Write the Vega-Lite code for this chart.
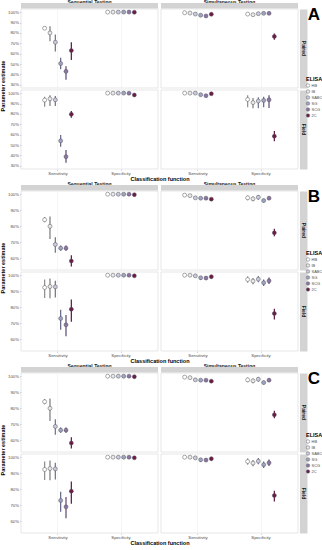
{
"$schema": "https://vega.github.io/schema/vega-lite/v6.json",
"padding": 0,
"background": "white",
"datasets": {
"A": [
{"setting":"Paired","testing":"Sequential Testing","measure":"Sensitivity","elisa":"HB","est":0.845,"lo":0.83,"hi":0.86},
{"setting":"Paired","testing":"Sequential Testing","measure":"Sensitivity","elisa":"IB","est":0.80,"lo":0.72,"hi":0.865},
{"setting":"Paired","testing":"Sequential Testing","measure":"Sensitivity","elisa":"SABC","est":0.71,"lo":0.62,"hi":0.785},
{"setting":"Paired","testing":"Sequential Testing","measure":"Sensitivity","elisa":"SG","est":0.505,"lo":0.45,"hi":0.56},
{"setting":"Paired","testing":"Sequential Testing","measure":"Sensitivity","elisa":"SCG","est":0.43,"lo":0.35,"hi":0.48},
{"setting":"Paired","testing":"Sequential Testing","measure":"Sensitivity","elisa":"2C","est":0.63,"lo":0.54,"hi":0.71},
{"setting":"Paired","testing":"Sequential Testing","measure":"Specificity","elisa":"HB","est":1.0,"lo":0.997,"hi":1.0},
{"setting":"Paired","testing":"Sequential Testing","measure":"Specificity","elisa":"IB","est":1.0,"lo":0.997,"hi":1.0},
{"setting":"Paired","testing":"Sequential Testing","measure":"Specificity","elisa":"SABC","est":1.0,"lo":0.997,"hi":1.0},
{"setting":"Paired","testing":"Sequential Testing","measure":"Specificity","elisa":"SG","est":1.0,"lo":0.996,"hi":1.0},
{"setting":"Paired","testing":"Sequential Testing","measure":"Specificity","elisa":"SCG","est":1.0,"lo":0.996,"hi":1.0},
{"setting":"Paired","testing":"Sequential Testing","measure":"Specificity","elisa":"2C","est":0.999,"lo":0.99,"hi":1.0},
{"setting":"Paired","testing":"Simultaneous Testing","measure":"Sensitivity","elisa":"HB","est":0.994,"lo":0.99,"hi":0.998},
{"setting":"Paired","testing":"Simultaneous Testing","measure":"Sensitivity","elisa":"IB","est":0.991,"lo":0.986,"hi":0.996},
{"setting":"Paired","testing":"Simultaneous Testing","measure":"Sensitivity","elisa":"SABC","est":0.981,"lo":0.975,"hi":0.987},
{"setting":"Paired","testing":"Simultaneous Testing","measure":"Sensitivity","elisa":"SG","est":0.97,"lo":0.963,"hi":0.977},
{"setting":"Paired","testing":"Simultaneous Testing","measure":"Sensitivity","elisa":"SCG","est":0.963,"lo":0.956,"hi":0.97},
{"setting":"Paired","testing":"Simultaneous Testing","measure":"Sensitivity","elisa":"2C","est":0.979,"lo":0.972,"hi":0.986},
{"setting":"Paired","testing":"Simultaneous Testing","measure":"Specificity","elisa":"HB","est":0.981,"lo":0.975,"hi":0.987},
{"setting":"Paired","testing":"Simultaneous Testing","measure":"Specificity","elisa":"IB","est":0.975,"lo":0.969,"hi":0.981},
{"setting":"Paired","testing":"Simultaneous Testing","measure":"Specificity","elisa":"SABC","est":0.985,"lo":0.98,"hi":0.99},
{"setting":"Paired","testing":"Simultaneous Testing","measure":"Specificity","elisa":"SG","est":0.988,"lo":0.983,"hi":0.993},
{"setting":"Paired","testing":"Simultaneous Testing","measure":"Specificity","elisa":"SCG","est":0.988,"lo":0.983,"hi":0.993},
{"setting":"Paired","testing":"Simultaneous Testing","measure":"Specificity","elisa":"2C","est":0.766,"lo":0.735,"hi":0.794},
{"setting":"Field","testing":"Sequential Testing","measure":"Sensitivity","elisa":"HB","est":0.933,"lo":0.869,"hi":0.966},
{"setting":"Field","testing":"Sequential Testing","measure":"Sensitivity","elisa":"IB","est":0.945,"lo":0.875,"hi":0.979},
{"setting":"Field","testing":"Sequential Testing","measure":"Sensitivity","elisa":"SABC","est":0.936,"lo":0.875,"hi":0.973},
{"setting":"Field","testing":"Sequential Testing","measure":"Sensitivity","elisa":"SG","est":0.541,"lo":0.483,"hi":0.596},
{"setting":"Field","testing":"Sequential Testing","measure":"Sensitivity","elisa":"SCG","est":0.389,"lo":0.331,"hi":0.453},
{"setting":"Field","testing":"Sequential Testing","measure":"Sensitivity","elisa":"2C","est":0.796,"lo":0.763,"hi":0.827},
{"setting":"Field","testing":"Sequential Testing","measure":"Specificity","elisa":"HB","est":1.0,"lo":0.997,"hi":1.0},
{"setting":"Field","testing":"Sequential Testing","measure":"Specificity","elisa":"IB","est":1.0,"lo":0.997,"hi":1.0},
{"setting":"Field","testing":"Sequential Testing","measure":"Specificity","elisa":"SABC","est":1.0,"lo":0.997,"hi":1.0},
{"setting":"Field","testing":"Sequential Testing","measure":"Specificity","elisa":"SG","est":1.0,"lo":0.997,"hi":1.0},
{"setting":"Field","testing":"Sequential Testing","measure":"Specificity","elisa":"SCG","est":0.999,"lo":0.994,"hi":1.0},
{"setting":"Field","testing":"Sequential Testing","measure":"Specificity","elisa":"2C","est":0.982,"lo":0.972,"hi":0.99},
{"setting":"Field","testing":"Simultaneous Testing","measure":"Sensitivity","elisa":"HB","est":1.0,"lo":0.997,"hi":1.0},
{"setting":"Field","testing":"Simultaneous Testing","measure":"Sensitivity","elisa":"IB","est":1.0,"lo":0.997,"hi":1.0},
{"setting":"Field","testing":"Simultaneous Testing","measure":"Sensitivity","elisa":"SABC","est":1.0,"lo":0.997,"hi":1.0},
{"setting":"Field","testing":"Simultaneous Testing","measure":"Sensitivity","elisa":"SG","est":0.985,"lo":0.975,"hi":0.994},
{"setting":"Field","testing":"Simultaneous Testing","measure":"Sensitivity","elisa":"SCG","est":0.975,"lo":0.962,"hi":0.987},
{"setting":"Field","testing":"Simultaneous Testing","measure":"Sensitivity","elisa":"2C","est":0.994,"lo":0.985,"hi":1.0},
{"setting":"Field","testing":"Simultaneous Testing","measure":"Specificity","elisa":"HB","est":0.939,"lo":0.863,"hi":0.979},
{"setting":"Field","testing":"Simultaneous Testing","measure":"Specificity","elisa":"IB","est":0.909,"lo":0.854,"hi":0.954},
{"setting":"Field","testing":"Simultaneous Testing","measure":"Specificity","elisa":"SABC","est":0.924,"lo":0.854,"hi":0.96},
{"setting":"Field","testing":"Simultaneous Testing","measure":"Specificity","elisa":"SG","est":0.93,"lo":0.863,"hi":0.966},
{"setting":"Field","testing":"Simultaneous Testing","measure":"Specificity","elisa":"SCG","est":0.936,"lo":0.857,"hi":0.979},
{"setting":"Field","testing":"Simultaneous Testing","measure":"Specificity","elisa":"2C","est":0.586,"lo":0.537,"hi":0.635}
],
"BC": [
{"setting":"Paired","testing":"Sequential Testing","measure":"Sensitivity","elisa":"HB","est":0.84,"lo":0.824,"hi":0.857},
{"setting":"Paired","testing":"Sequential Testing","measure":"Sensitivity","elisa":"IB","est":0.799,"lo":0.72,"hi":0.861},
{"setting":"Paired","testing":"Sequential Testing","measure":"Sensitivity","elisa":"SABC","est":0.685,"lo":0.633,"hi":0.73},
{"setting":"Paired","testing":"Sequential Testing","measure":"Sensitivity","elisa":"SG","est":0.662,"lo":0.646,"hi":0.679},
{"setting":"Paired","testing":"Sequential Testing","measure":"Sensitivity","elisa":"SCG","est":0.662,"lo":0.646,"hi":0.679},
{"setting":"Paired","testing":"Sequential Testing","measure":"Sensitivity","elisa":"2C","est":0.581,"lo":0.547,"hi":0.617},
{"setting":"Paired","testing":"Sequential Testing","measure":"Specificity","elisa":"HB","est":1.0,"lo":0.997,"hi":1.0},
{"setting":"Paired","testing":"Sequential Testing","measure":"Specificity","elisa":"IB","est":1.0,"lo":0.997,"hi":1.0},
{"setting":"Paired","testing":"Sequential Testing","measure":"Specificity","elisa":"SABC","est":1.0,"lo":0.997,"hi":1.0},
{"setting":"Paired","testing":"Sequential Testing","measure":"Specificity","elisa":"SG","est":1.0,"lo":0.997,"hi":1.0},
{"setting":"Paired","testing":"Sequential Testing","measure":"Specificity","elisa":"SCG","est":1.0,"lo":0.997,"hi":1.0},
{"setting":"Paired","testing":"Sequential Testing","measure":"Specificity","elisa":"2C","est":0.997,"lo":0.993,"hi":1.0},
{"setting":"Paired","testing":"Simultaneous Testing","measure":"Sensitivity","elisa":"HB","est":0.994,"lo":0.99,"hi":0.998},
{"setting":"Paired","testing":"Simultaneous Testing","measure":"Sensitivity","elisa":"IB","est":0.991,"lo":0.987,"hi":0.995},
{"setting":"Paired","testing":"Simultaneous Testing","measure":"Sensitivity","elisa":"SABC","est":0.977,"lo":0.972,"hi":0.982},
{"setting":"Paired","testing":"Simultaneous Testing","measure":"Sensitivity","elisa":"SG","est":0.975,"lo":0.97,"hi":0.98},
{"setting":"Paired","testing":"Simultaneous Testing","measure":"Sensitivity","elisa":"SCG","est":0.975,"lo":0.97,"hi":0.98},
{"setting":"Paired","testing":"Simultaneous Testing","measure":"Sensitivity","elisa":"2C","est":0.969,"lo":0.963,"hi":0.975},
{"setting":"Paired","testing":"Simultaneous Testing","measure":"Specificity","elisa":"HB","est":0.977,"lo":0.962,"hi":0.992},
{"setting":"Paired","testing":"Simultaneous Testing","measure":"Specificity","elisa":"IB","est":0.971,"lo":0.956,"hi":0.986},
{"setting":"Paired","testing":"Simultaneous Testing","measure":"Specificity","elisa":"SABC","est":0.981,"lo":0.965,"hi":0.995},
{"setting":"Paired","testing":"Simultaneous Testing","measure":"Specificity","elisa":"SG","est":0.96,"lo":0.948,"hi":0.972},
{"setting":"Paired","testing":"Simultaneous Testing","measure":"Specificity","elisa":"SCG","est":0.975,"lo":0.963,"hi":0.987},
{"setting":"Paired","testing":"Simultaneous Testing","measure":"Specificity","elisa":"2C","est":0.758,"lo":0.737,"hi":0.783},
{"setting":"Field","testing":"Sequential Testing","measure":"Sensitivity","elisa":"HB","est":0.923,"lo":0.857,"hi":0.973},
{"setting":"Field","testing":"Sequential Testing","measure":"Sensitivity","elisa":"IB","est":0.929,"lo":0.855,"hi":0.979},
{"setting":"Field","testing":"Sequential Testing","measure":"Sensitivity","elisa":"SABC","est":0.927,"lo":0.86,"hi":0.965},
{"setting":"Field","testing":"Sequential Testing","measure":"Sensitivity","elisa":"SG","est":0.729,"lo":0.658,"hi":0.784},
{"setting":"Field","testing":"Sequential Testing","measure":"Sensitivity","elisa":"SCG","est":0.689,"lo":0.618,"hi":0.75},
{"setting":"Field","testing":"Sequential Testing","measure":"Sensitivity","elisa":"2C","est":0.787,"lo":0.709,"hi":0.848},
{"setting":"Field","testing":"Sequential Testing","measure":"Specificity","elisa":"HB","est":1.0,"lo":0.997,"hi":1.0},
{"setting":"Field","testing":"Sequential Testing","measure":"Specificity","elisa":"IB","est":1.0,"lo":0.997,"hi":1.0},
{"setting":"Field","testing":"Sequential Testing","measure":"Specificity","elisa":"SABC","est":1.0,"lo":0.997,"hi":1.0},
{"setting":"Field","testing":"Sequential Testing","measure":"Specificity","elisa":"SG","est":1.0,"lo":0.997,"hi":1.0},
{"setting":"Field","testing":"Sequential Testing","measure":"Specificity","elisa":"SCG","est":1.0,"lo":0.997,"hi":1.0},
{"setting":"Field","testing":"Sequential Testing","measure":"Specificity","elisa":"2C","est":0.996,"lo":0.992,"hi":1.0},
{"setting":"Field","testing":"Simultaneous Testing","measure":"Sensitivity","elisa":"HB","est":1.0,"lo":0.997,"hi":1.0},
{"setting":"Field","testing":"Simultaneous Testing","measure":"Sensitivity","elisa":"IB","est":1.0,"lo":0.997,"hi":1.0},
{"setting":"Field","testing":"Simultaneous Testing","measure":"Sensitivity","elisa":"SABC","est":0.996,"lo":0.992,"hi":1.0},
{"setting":"Field","testing":"Simultaneous Testing","measure":"Sensitivity","elisa":"SG","est":0.984,"lo":0.97,"hi":0.995},
{"setting":"Field","testing":"Simultaneous Testing","measure":"Sensitivity","elisa":"SCG","est":0.982,"lo":0.97,"hi":0.993},
{"setting":"Field","testing":"Simultaneous Testing","measure":"Sensitivity","elisa":"2C","est":0.991,"lo":0.98,"hi":1.0},
{"setting":"Field","testing":"Simultaneous Testing","measure":"Specificity","elisa":"HB","est":0.973,"lo":0.953,"hi":0.994},
{"setting":"Field","testing":"Simultaneous Testing","measure":"Specificity","elisa":"IB","est":0.963,"lo":0.943,"hi":0.983},
{"setting":"Field","testing":"Simultaneous Testing","measure":"Specificity","elisa":"SABC","est":0.975,"lo":0.955,"hi":0.995},
{"setting":"Field","testing":"Simultaneous Testing","measure":"Specificity","elisa":"SG","est":0.953,"lo":0.933,"hi":0.973},
{"setting":"Field","testing":"Simultaneous Testing","measure":"Specificity","elisa":"SCG","est":0.965,"lo":0.945,"hi":0.985},
{"setting":"Field","testing":"Simultaneous Testing","measure":"Specificity","elisa":"2C","est":0.76,"lo":0.723,"hi":0.79}
]
},
"vconcat": [
{
 "data": {"name": "A"},
 "title": {"text": "A", "orient": "top", "anchor": "end", "frame": "bounds", "offset": -24, "dx": -3, "fontSize": 17, "fontWeight": "bold", "color": "#000"},
 "facet": {
  "row": {"field": "setting", "type": "nominal", "sort": ["Paired", "Field"], "title": "Parameter estimate", "header": {"labelOrient": "right", "labelAngle": 90, "labelPadding": -4.5, "labelBaseline": "middle", "labelAlign": "center", "titleOrient": "left", "titlePadding": -9}},
  "column": {"field": "testing", "type": "nominal", "title": "Classification function", "header": {"labelOrient": "top", "labelPadding": 2, "labelBaseline": "middle", "titleOrient": "bottom", "titlePadding": -9.5}}
 },
 "spacing": {"row": 2, "column": 3},
 "bounds": "flush",
 "spec": {
  "width": 137, "height": 79,
  "layer": [
   {"transform": [{"filter": "datum.setting === 'Paired' && datum.elisa === 'HB' && datum.measure === 'Sensitivity'"}],
    "mark": {"type": "rect", "color": "#d3d3d3"},
    "encoding": {"y": {"datum": 1.035, "type": "quantitative", "title": null, "axis": {"orient": "right", "domain": true, "domainColor": "#d3d3d3", "domainWidth": 7.5, "labels": false, "ticks": false, "grid": false, "title": null, "offset": 5.2}}, "y2": {"datum": 1.088}}},
   {"layer": [
    {"mark": {"type": "rule", "strokeWidth": 1.2},
     "encoding": {
      "x": {"field": "measure", "type": "nominal", "title": null, "scale": {"paddingInner": 0.492, "paddingOuter": 0.333}, "axis": {"labelAngle": 0, "bandPosition": 0.5, "grid": true}},
      "xOffset": {"field": "elisa", "type": "nominal", "sort": ["HB","IB","SABC","SG","SCG","2C"], "scale": {"paddingInner": 0, "paddingOuter": 0}},
      "y": {"field": "lo", "type": "quantitative", "title": null, "scale": {"domain": [0.27, 1.03], "nice": false, "zero": false}, "axis": {"values": [0.3,0.4,0.5,0.6,0.7,0.8,0.9,1.0], "format": ".0%", "labelOverlap": false}},
      "y2": {"field": "hi"},
      "color": {"field": "elisa", "type": "nominal", "scale": {"domain": ["HB","IB","SABC","SG","SCG","2C"], "range": ["#8c8c8c","#7a7a7a","#6e7088","#5f6585","#5d4672","#5a1540"]}, "legend": null}
     }},
    {"mark": {"type": "point", "filled": true, "size": 16, "stroke": "#555", "strokeWidth": 0.5, "opacity": 1},
     "encoding": {
      "x": {"field": "measure", "type": "nominal", "title": null},
      "xOffset": {"field": "elisa", "type": "nominal", "sort": ["HB","IB","SABC","SG","SCG","2C"]},
      "y": {"field": "est", "type": "quantitative", "title": null, "axis": {"values": [0.3,0.4,0.5,0.6,0.7,0.8,0.9,1.0], "format": ".0%", "labelOverlap": false}},
      "fill": {"field": "elisa", "type": "nominal", "scale": {"domain": ["HB","IB","SABC","SG","SCG","2C"], "range": ["#ffffff","#e8e8ee","#c8cade","#9fa4c6","#8b75a6","#6b1a4c"]},
        "legend": {"title": "ELISA", "orient": "none", "legendX": 285, "legendY": 68}}
     }}
   ]}
  ],
  "resolve": {"axis": {"y": "independent"}}
 }
},
{
 "data": {"name": "BC"},
 "title": {"text": "B", "orient": "top", "anchor": "end", "frame": "bounds", "offset": -24, "dx": -3, "fontSize": 17, "fontWeight": "bold", "color": "#000"},
 "facet": {
  "row": {"field": "setting", "type": "nominal", "sort": ["Paired", "Field"], "title": "Parameter estimate", "header": {"labelOrient": "right", "labelAngle": 90, "labelPadding": -4.5, "labelBaseline": "middle", "labelAlign": "center", "titleOrient": "left", "titlePadding": -9}},
  "column": {"field": "testing", "type": "nominal", "title": "Classification function", "header": {"labelOrient": "top", "labelPadding": 2, "labelBaseline": "middle", "titleOrient": "bottom", "titlePadding": -9.5}}
 },
 "spacing": {"row": 2, "column": 3},
 "bounds": "flush",
 "spec": {
  "width": 137, "height": 79,
  "layer": [
   {"transform": [{"filter": "datum.setting === 'Paired' && datum.elisa === 'HB' && datum.measure === 'Sensitivity'"}],
    "mark": {"type": "rect", "color": "#d3d3d3"},
    "encoding": {"y": {"datum": 1.023, "type": "quantitative", "title": null, "axis": {"orient": "right", "domain": true, "domainColor": "#d3d3d3", "domainWidth": 7.5, "labels": false, "ticks": false, "grid": false, "title": null, "offset": 5.2}}, "y2": {"datum": 1.058}}},
   {"layer": [
    {"mark": {"type": "rule", "strokeWidth": 1.2},
     "encoding": {
      "x": {"field": "measure", "type": "nominal", "title": null, "scale": {"paddingInner": 0.492, "paddingOuter": 0.333}, "axis": {"labelAngle": 0, "bandPosition": 0.5, "grid": true}},
      "xOffset": {"field": "elisa", "type": "nominal", "sort": ["HB","IB","SABC","SG","SCG","2C"], "scale": {"paddingInner": 0, "paddingOuter": 0}},
      "y": {"field": "lo", "type": "quantitative", "title": null, "scale": {"domain": [0.525, 1.02], "nice": false, "zero": false}, "axis": {"values": [0.6,0.7,0.8,0.9,1.0], "format": ".0%", "labelOverlap": false}},
      "y2": {"field": "hi"},
      "color": {"field": "elisa", "type": "nominal", "scale": {"domain": ["HB","IB","SABC","SG","SCG","2C"], "range": ["#8c8c8c","#7a7a7a","#6e7088","#5f6585","#5d4672","#5a1540"]}, "legend": null}
     }},
    {"mark": {"type": "point", "filled": true, "size": 16, "stroke": "#555", "strokeWidth": 0.5, "opacity": 1},
     "encoding": {
      "x": {"field": "measure", "type": "nominal", "title": null},
      "xOffset": {"field": "elisa", "type": "nominal", "sort": ["HB","IB","SABC","SG","SCG","2C"]},
      "y": {"field": "est", "type": "quantitative", "title": null, "axis": {"values": [0.6,0.7,0.8,0.9,1.0], "format": ".0%", "labelOverlap": false}},
      "fill": {"field": "elisa", "type": "nominal", "scale": {"domain": ["HB","IB","SABC","SG","SCG","2C"], "range": ["#ffffff","#e8e8ee","#c8cade","#9fa4c6","#8b75a6","#6b1a4c"]},
        "legend": {"title": "ELISA", "orient": "none", "legendX": 285, "legendY": 60}}
     }}
   ]}
  ],
  "resolve": {"axis": {"y": "independent"}}
 }
},
{
 "data": {"name": "BC"},
 "title": {"text": "C", "orient": "top", "anchor": "end", "frame": "bounds", "offset": -24, "dx": -3, "fontSize": 17, "fontWeight": "bold", "color": "#000"},
 "facet": {
  "row": {"field": "setting", "type": "nominal", "sort": ["Paired", "Field"], "title": "Parameter estimate", "header": {"labelOrient": "right", "labelAngle": 90, "labelPadding": -4.5, "labelBaseline": "middle", "labelAlign": "center", "titleOrient": "left", "titlePadding": -9}},
  "column": {"field": "testing", "type": "nominal", "title": "Classification function", "header": {"labelOrient": "top", "labelPadding": 2, "labelBaseline": "middle", "titleOrient": "bottom", "titlePadding": -9.5}}
 },
 "spacing": {"row": 2, "column": 3},
 "bounds": "flush",
 "spec": {
  "width": 137, "height": 79,
  "layer": [
   {"transform": [{"filter": "datum.setting === 'Paired' && datum.elisa === 'HB' && datum.measure === 'Sensitivity'"}],
    "mark": {"type": "rect", "color": "#d3d3d3"},
    "encoding": {"y": {"datum": 1.023, "type": "quantitative", "title": null, "axis": {"orient": "right", "domain": true, "domainColor": "#d3d3d3", "domainWidth": 7.5, "labels": false, "ticks": false, "grid": false, "title": null, "offset": 5.2}}, "y2": {"datum": 1.058}}},
   {"layer": [
    {"mark": {"type": "rule", "strokeWidth": 1.2},
     "encoding": {
      "x": {"field": "measure", "type": "nominal", "title": null, "scale": {"paddingInner": 0.492, "paddingOuter": 0.333}, "axis": {"labelAngle": 0, "bandPosition": 0.5, "grid": true}},
      "xOffset": {"field": "elisa", "type": "nominal", "sort": ["HB","IB","SABC","SG","SCG","2C"], "scale": {"paddingInner": 0, "paddingOuter": 0}},
      "y": {"field": "lo", "type": "quantitative", "title": null, "scale": {"domain": [0.525, 1.02], "nice": false, "zero": false}, "axis": {"values": [0.6,0.7,0.8,0.9,1.0], "format": ".0%", "labelOverlap": false}},
      "y2": {"field": "hi"},
      "color": {"field": "elisa", "type": "nominal", "scale": {"domain": ["HB","IB","SABC","SG","SCG","2C"], "range": ["#8c8c8c","#7a7a7a","#6e7088","#5f6585","#5d4672","#5a1540"]}, "legend": null}
     }},
    {"mark": {"type": "point", "filled": true, "size": 16, "stroke": "#555", "strokeWidth": 0.5, "opacity": 1},
     "encoding": {
      "x": {"field": "measure", "type": "nominal", "title": null},
      "xOffset": {"field": "elisa", "type": "nominal", "sort": ["HB","IB","SABC","SG","SCG","2C"]},
      "y": {"field": "est", "type": "quantitative", "title": null, "axis": {"values": [0.6,0.7,0.8,0.9,1.0], "format": ".0%", "labelOverlap": false}},
      "fill": {"field": "elisa", "type": "nominal", "scale": {"domain": ["HB","IB","SABC","SG","SCG","2C"], "range": ["#ffffff","#e8e8ee","#c8cade","#9fa4c6","#8b75a6","#6b1a4c"]},
        "legend": {"title": "ELISA", "orient": "none", "legendX": 285, "legendY": 60}}
     }}
   ]}
  ],
  "resolve": {"axis": {"y": "independent"}}
 }
}
],
"spacing": 0,
"resolve": {"legend": {"fill": "independent"}},
"config": {
 "font": "Liberation Sans",
 "view": {"stroke": "#cccccc", "strokeWidth": 0.5},
 "axis": {"labelFontSize": 4.3, "labelColor": "#4d4d4d", "labelOverlap": false, "tickSize": 1.5, "tickColor": "#aaaaaa", "tickWidth": 0.5, "domain": false, "gridColor": "#ebebeb", "gridWidth": 0.5, "labelPadding": 1, "titleFontSize": 5.5, "titleFontWeight": "bold", "titleColor": "#000000", "titlePadding": 2},
 "header": {"labelFontSize": 5, "labelFontWeight": "bold", "labelColor": "#1a1a1a", "titleFontSize": 5.5, "titleFontWeight": "bold", "titleColor": "#000000"},
 "legend": {"titleFontSize": 5.5, "titleFontWeight": "bold", "titleColor": "#000000", "labelFontSize": 4, "labelColor": "#4d4d4d", "symbolSize": 12, "symbolType": "circle", "symbolStrokeColor": "#666666", "symbolStrokeWidth": 0.5, "rowPadding": 0, "titlePadding": 1, "labelOffset": 1.5, "padding": 0}
}
}
